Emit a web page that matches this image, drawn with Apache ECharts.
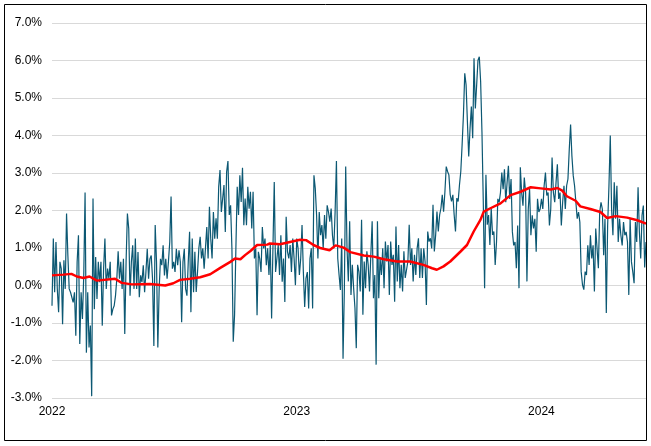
<!DOCTYPE html>
<html>
<head>
<meta charset="utf-8">
<script src="https://cdn.jsdelivr.net/npm/echarts@6/dist/echarts.min.js"></script>
<style>
html,body{margin:0;padding:0;background:#fff;}
#chart{width:651px;height:446px;}
</style>
</head>
<body>
<div id="chart"></div>
<script>
// ---- data ----
const startDate = '2022-01-01';
const endDate = '2024-06-05';
const yearLabels = ['2022', '2023', '2024'];
const yTicks = [-3, -2, -1, 0, 1, 2, 3, 4, 5, 6, 7];

// daily values (%)
const returns = [
-0.54,1.25,-0.18,1.16,-0.09,-0.71,0.63,0.45,-1.03,0.67,-0.09,1.92,0.80,-0.09,-0.18,-0.22,-0.45,-0.18,-1.34,0.63,1.34,-1.56,-0.18,-0.89,0.27,2.48,-1.79,-0.18,-1.65,-1.07,-2.95,2.32,-0.63,0.76,-0.36,0.63,0.09,0.63,-1.07,0.45,1.25,-0.09,0.45,0.18,0.63,-0.80,-0.63,-0.54,-0.27,0.18,0.91,0.18,0.63,-0.09,0.71,-1.29,0.63,1.92,1.52,-0.27,0.63,1.07,-0.09,1.25,-0.09,0.89,-0.31,0.27,0.09,0.54,-0.18,0.36,0.98,0.18,0.71,0.80,0.18,-1.61,1.61,0.63,-1.65,-0.09,0.71,0.54,1.07,0.27,0.71,0.18,0.63,1.16,2.37,0.45,0.63,0.36,0.98,0.54,0.94,0.63,-0.98,0.63,0.98,-0.09,-0.27,0.63,1.43,-0.71,1.25,-0.18,
0.90,-0.17,0.36,0.99,1.30,0.72,0.99,0.45,0.99,1.56,0.72,2.10,1.25,0.72,1.96,1.25,1.79,1.25,2.63,3.08,1.96,2.32,2.68,1.43,3.03,3.32,1.88,2.14,0.99,-1.50,-0.79,0.99,2.63,1.88,2.94,2.23,3.14,1.61,2.32,1.61,2.63,2.05,2.50,1.52,2.50,0.72,0.99,-0.79,0.90,0.72,0.36,1.56,0.99,1.25,0.54,0.99,0.28,1.08,-0.88,0.99,2.76,0.36,0.72,1.08,0.28,1.34,0.10,0.72,-0.44,1.83,0.90,0.72,1.08,0.36,1.25,0.72,0.01,1.25,0.99,0.28,0.72,1.61,0.36,-0.57,0.19,0.36,-0.61,0.72,0.99,-0.61,2.94,2.59,1.88,0.72,1.96,1.34,1.61,0.99,1.88,1.25,2.14,1.96,1.70,2.05,1.34,0.99,1.96,3.32,0.72,0.28,-0.12,1.25,-1.95,-0.08,
3.17,0.99,0.11,1.71,-0.25,0.55,-0.07,-0.60,-1.67,0.55,0.37,-0.16,1.75,-0.78,0.64,-0.07,0.91,0.55,-0.16,0.82,1.71,-0.34,0.28,-2.11,1.71,-0.34,0.73,0.28,0.99,-0.07,1.17,0.64,1.08,-0.25,1.17,0.55,0.82,-0.43,1.57,0.11,1.08,-0.07,0.55,-0.16,0.91,0.20,0.20,0.64,1.62,0.55,0.99,0.11,0.82,0.28,0.99,1.26,0.20,0.99,0.20,0.99,0.64,-0.52,1.44,1.17,1.26,0.99,2.15,0.91,1.35,1.97,1.44,1.88,2.06,2.42,1.97,2.50,3.17,3.04,2.95,2.42,2.24,2.42,1.88,1.44,2.33,2.24,2.68,3.04,3.75,4.55,5.66,5.35,4.37,3.44,4.19,4.77,3.93,6.06,4.72,5.35,6.01,6.10,5.44,4.10,2.24,-0.07,2.95,1.62,1.88,1.08,2.06,1.35,1.44,0.55,
1.16,2.31,2.22,2.48,3.01,2.57,3.10,2.22,2.75,3.19,2.31,2.84,1.43,1.07,1.16,0.46,1.60,-0.07,3.15,2.48,2.13,2.88,2.48,0.11,2.04,2.57,1.34,1.87,1.52,1.78,0.90,2.31,1.96,2.04,2.31,2.04,2.66,3.01,2.40,2.48,1.60,2.04,3.41,2.48,2.22,2.75,3.23,2.31,2.48,1.60,2.22,2.66,2.04,2.66,2.84,3.63,4.29,3.45,2.93,2.66,2.22,1.78,1.96,1.69,0.37,0.02,-0.11,0.37,0.28,1.07,0.55,1.34,0.72,1.07,-0.16,1.52,0.99,0.46,1.96,2.22,2.04,0.81,1.78,-0.73,1.60,2.66,4.00,2.04,1.34,2.75,1.78,2.66,1.16,1.78,1.34,1.07,1.69,1.34,1.43,1.16,-0.25,1.78,0.63,0.37,0.06,1.69,1.16,2.62,1.43,0.72,1.87,2.13,0.48,1.16
];

// moving average (%)
const maDates = ['2022-01-01','2022-01-18','2022-01-30','2022-02-07','2022-02-17','2022-02-26','2022-03-09','2022-04-05','2022-04-15','2022-04-30','2022-05-27','2022-06-19','2022-07-01','2022-07-11','2022-07-26','2022-08-10','2022-08-25','2022-09-09','2022-09-24','2022-10-01','2022-10-09','2022-10-16','2022-10-24','2022-11-03','2022-11-18','2022-11-22','2022-12-07','2022-12-22','2023-01-06','2023-01-15','2023-01-26','2023-02-05','2023-02-19','2023-02-28','2023-03-12','2023-03-22','2023-04-11','2023-04-26','2023-05-11','2023-05-31','2023-06-19','2023-07-09','2023-07-22','2023-07-29','2023-08-08','2023-08-18','2023-09-02','2023-09-12','2023-09-22','2023-10-02','2023-10-07','2023-10-17','2023-11-01','2023-11-16','2023-12-01','2023-12-16','2023-12-31','2024-01-15','2024-01-25','2024-02-01','2024-02-08','2024-02-21','2024-02-28','2024-03-14','2024-03-29','2024-04-08','2024-04-21','2024-05-08','2024-05-23','2024-06-05'];
const maValues = [0.27,0.29,0.31,0.24,0.20,0.24,0.13,0.18,0.07,0.03,0.04,0.00,0.06,0.15,0.18,0.22,0.30,0.47,0.63,0.72,0.70,0.81,0.92,1.08,1.09,1.12,1.10,1.16,1.22,1.21,1.08,1.00,0.94,1.07,1.01,0.89,0.80,0.77,0.70,0.64,0.64,0.55,0.46,0.42,0.51,0.64,0.90,1.08,1.44,1.75,1.97,2.06,2.19,2.41,2.50,2.62,2.59,2.56,2.60,2.53,2.38,2.26,2.11,2.04,1.96,1.80,1.85,1.81,1.74,1.65];

// ---- build ----
const DAY = 86400000;
const t0 = Date.parse(startDate + 'T00:00:00Z');
const dayOf = s => (Date.parse(s + 'T00:00:00Z') - t0) / DAY;
const lastDay = dayOf(endDate);
const n = returns.length;
const retData = returns.map((v, i) => [i * lastDay / (n - 1), v]);
const maData = maValues.map((v, i) => [dayOf(maDates[i]), v]);
const yearStarts = yearLabels.map(y => dayOf(y + '-01-01'));

const chart = echarts.init(document.getElementById('chart'), null, {renderer: 'canvas'});
chart.setOption({
  animation: false,
  backgroundColor: '#fff',
  grid: {left: 52, right: 5, top: 23, bottom: 48, containLabel: false},
  xAxis: {
    type: 'value', min: 0, max: lastDay, interval: 365,
    axisLine: {show: false}, axisTick: {show: false}, splitLine: {show: false},
    axisLabel: {
      color: '#000', fontFamily: 'Liberation Sans, Arial, sans-serif', fontSize: 12, margin: 8,
      showMaxLabel: false,
      formatter: v => { const k = yearStarts.indexOf(v); return k >= 0 ? yearLabels[k] : ''; }
    }
  },
  yAxis: {
    type: 'value', min: yTicks[0], max: yTicks[yTicks.length - 1], interval: 1,
    axisLine: {show: false}, axisTick: {show: false},
    splitLine: {lineStyle: {color: '#d9d9d9', width: 1}},
    axisLabel: {
      color: '#000', fontFamily: 'Liberation Sans, Arial, sans-serif', fontSize: 12, margin: 10,
      formatter: v => v.toFixed(1) + '%'
    }
  },
  graphic: [{
    type: 'rect', silent: true, z: 100,
    shape: {x: 4.5, y: 4.5, width: 642, height: 436},
    style: {fill: 'none', stroke: '#000', lineWidth: 1}
  }],
  series: [
    {type: 'line', data: retData, showSymbol: false, symbol: 'none',
     lineStyle: {color: '#0c5873', width: 1.2}, z: 2},
    {type: 'line', data: maData, showSymbol: false, symbol: 'none',
     lineStyle: {color: '#ff0000', width: 2.5}, z: 3}
  ]
});
</script>
</body>
</html>
